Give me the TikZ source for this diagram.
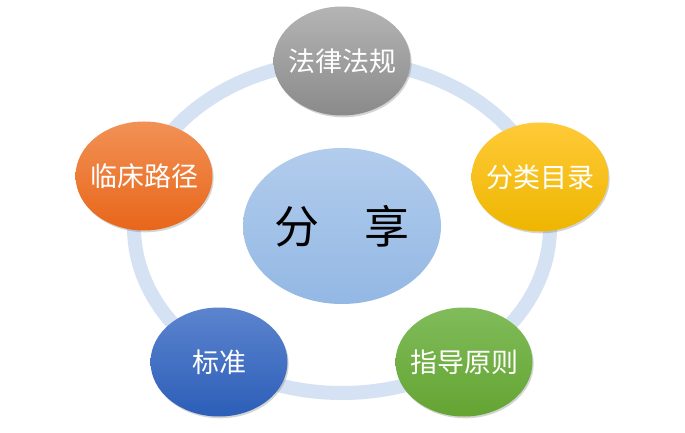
\documentclass[tikz,border=0pt]{standalone}
\usepackage{fontspec}
\newfontfamily\cjk{Noto Sans CJK SC}
\usetikzlibrary{shapes.geometric,shadows}
\newcommand\bubtext[1]{\makebox[0pt]{#1}}
\definecolor{ringblue}{RGB}{212,226,243}
\definecolor{ctop}{RGB}{178,204,236}
\definecolor{cbot}{RGB}{147,184,228}
\definecolor{graytop}{RGB}{180,180,180}
\definecolor{graybot}{RGB}{138,138,138}
\definecolor{orangetop}{RGB}{242,145,85}
\definecolor{orangebot}{RGB}{232,102,26}
\definecolor{yellowtop}{RGB}{255,202,56}
\definecolor{yellowbot}{RGB}{238,182,0}
\definecolor{greentop}{RGB}{128,188,90}
\definecolor{greenbot}{RGB}{100,164,50}
\definecolor{bluetop}{RGB}{92,132,206}
\definecolor{bluebot}{RGB}{44,94,184}
\begin{document}
\begin{tikzpicture}[x=1pt,y=-1pt,
  bubble/.style={ellipse,draw=none,minimum width=137pt,minimum height=109pt,
    inner sep=0pt,text=white,font=\cjk\fontsize{27}{30}\selectfont,
    drop shadow={shadow xshift=1.2pt,shadow yshift=-1.8pt,opacity=0.3,fill=black!55}},
  hub/.style={ellipse,draw=none,minimum width=198pt,minimum height=156pt,
    inner sep=0pt,text=black,font=\cjk\fontsize{45}{50}\selectfont},
]
\useasboundingbox (0,0) rectangle (685,433);
\fill[white] (0,0) rectangle (685,433);
% ring
\draw[draw=ringblue,line width=14pt] (342,227) ellipse [x radius=208pt, y radius=166pt];
% hub
\node[hub,top color=ctop,bottom color=cbot] (share) at (342,226) {\bubtext{分　享}};
% satellites
\node[bubble,top color=graytop,bottom color=graybot] (law) at (342,61) {\bubtext{法律法规}};
\node[bubble,top color=yellowtop,bottom color=yellowbot] (cat) at (540,177) {\bubtext{分类目录}};
\node[bubble,top color=greentop,bottom color=greenbot] (guide) at (464,362) {\bubtext{指导原则}};
\node[bubble,top color=bluetop,bottom color=bluebot] (std) at (219,362) {\bubtext{标准}};
\node[bubble,top color=orangetop,bottom color=orangebot] (path) at (144,176) {\bubtext{临床路径}};
\end{tikzpicture}
\end{document}
